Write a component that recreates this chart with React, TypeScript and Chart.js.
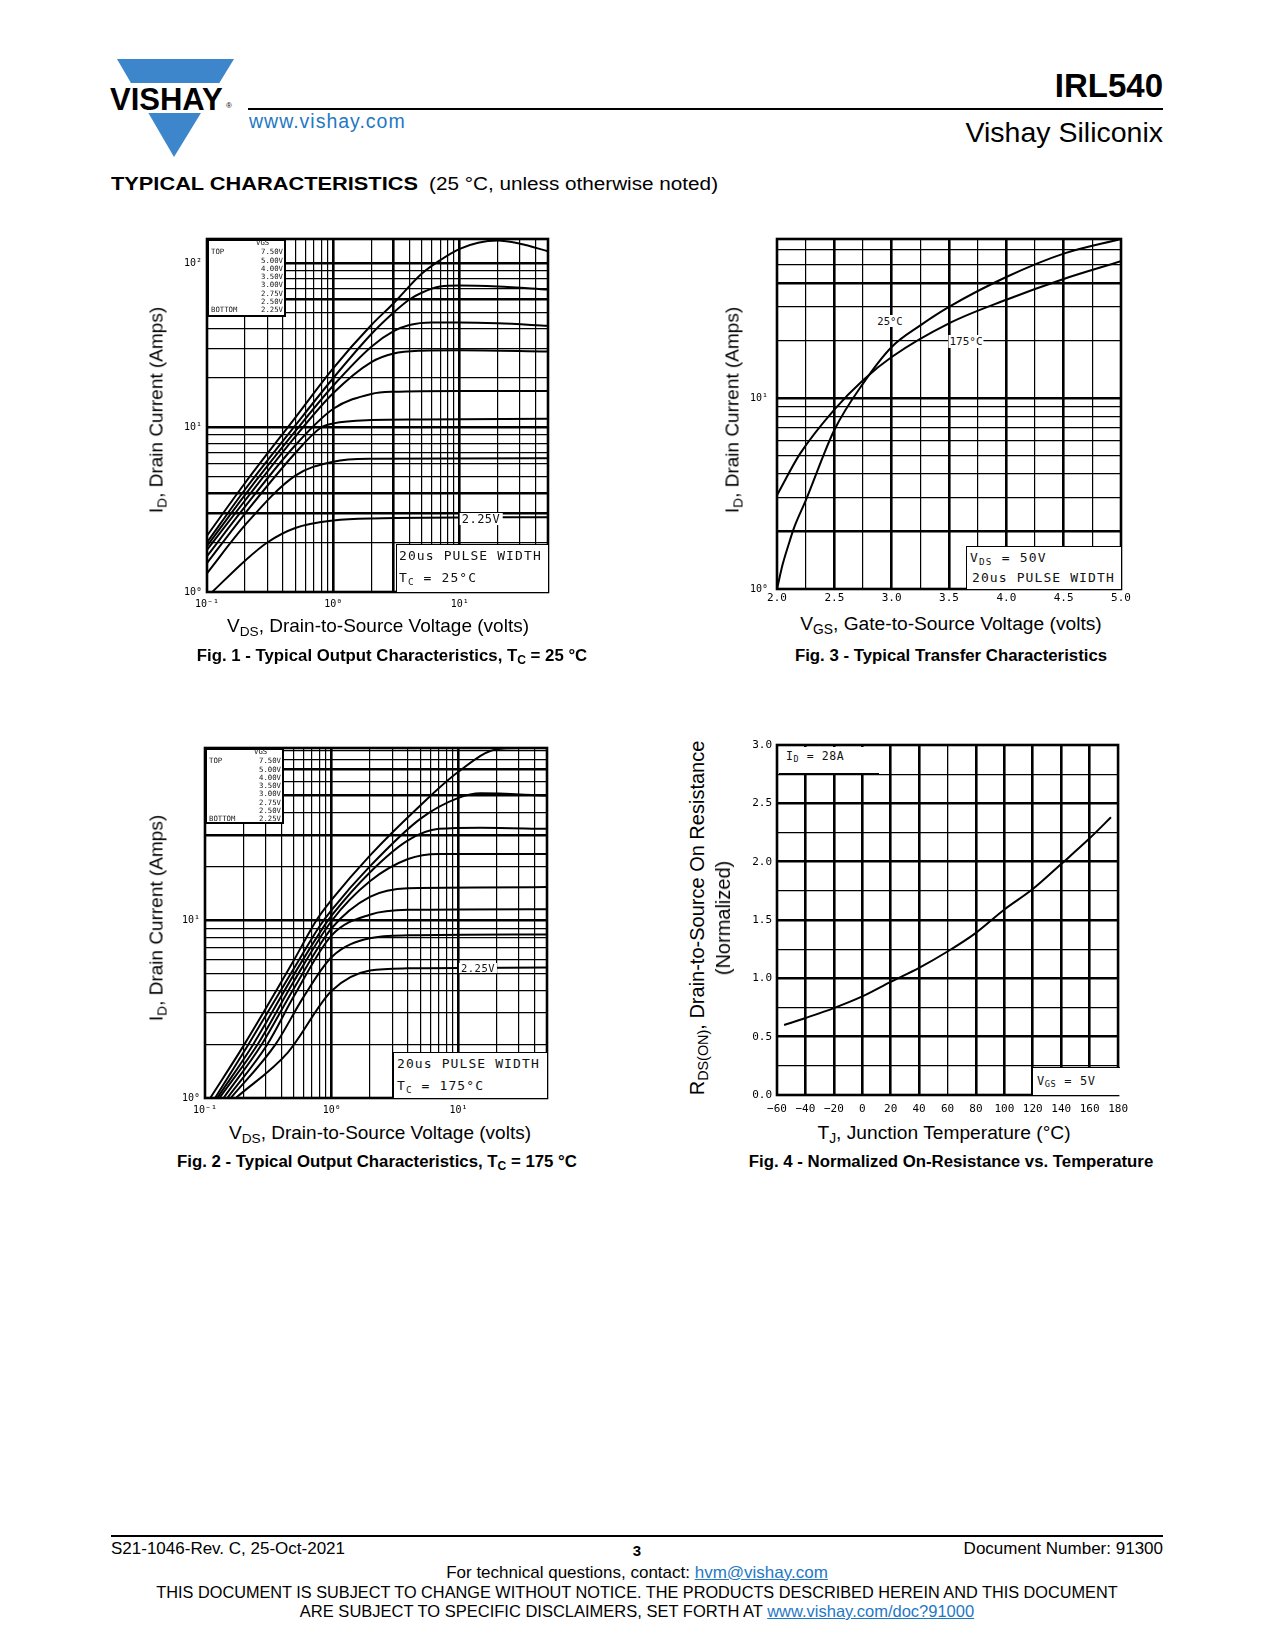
import React, { useEffect, useRef } from "react";
import { Chart, registerables } from "chart.js";
Chart.register(...registerables);

const SANS = "'Liberation Sans', Arial, Helvetica, sans-serif";
const MONO = "'DejaVu Sans Mono', monospace";
const BLUE = "#3d86cb";
const LINK = "#1f78c4";

// ---------- Fig. 1 : output characteristics, Tc = 25 °C  [VDS (V), ID (A)] ----------
const VGS_LEVELS = ["7.50V", "5.00V", "4.00V", "3.50V", "3.00V", "2.75V", "2.50V", "2.25V"];
const F1_VGS_750 = [[0.1, 2.2], [0.2, 4.6], [0.5, 11.5], [1, 23], [2, 42], [3, 57], [5, 86], [7, 104], [10, 122], [14, 133], [20, 137], [30, 131], [50, 118]];
const F1_VGS_500 = [[0.1, 2.0], [0.2, 4.2], [0.5, 10.3], [1, 20], [2, 37], [3, 50], [4, 60], [5, 66], [7, 72], [10, 73], [20, 72], [50, 69]];
const F1_VGS_400 = [[0.1, 1.9], [0.2, 3.9], [0.5, 9.5], [1, 18], [2, 31], [3, 38.5], [4, 42], [6, 43.5], [10, 43.5], [20, 43], [50, 41.5]];
const F1_VGS_350 = [[0.1, 1.8], [0.2, 3.6], [0.5, 8.8], [1, 16.2], [2, 25], [3, 28.2], [5, 29.3], [10, 29.5], [50, 29]];
const F1_VGS_300 = [[0.1, 1.65], [0.2, 3.3], [0.5, 7.8], [1, 13], [2, 16], [3, 16.5], [10, 16.7], [50, 16.7]];
const F1_VGS_275 = [[0.1, 1.5], [0.2, 3.0], [0.5, 7.0], [0.8, 10], [1, 10.6], [2, 11.1], [5, 11.2], [50, 11.3]];
const F1_VGS_250 = [[0.1, 1.3], [0.2, 2.55], [0.5, 5.1], [1, 6.2], [2, 6.45], [50, 6.5]];
const F1_VGS_225 = [[0.11, 1.0], [0.2, 1.55], [0.3, 2.0], [0.5, 2.45], [1, 2.72], [2, 2.8], [50, 2.85]];

// ---------- Fig. 2 : output characteristics, Tc = 175 °C ----------
const F2_VGS_750 = [[0.11, 1], [0.2, 1.95], [0.5, 5.9], [0.76, 10], [1, 13], [2, 23], [5, 44], [10, 68], [20, 91], [30, 92.5], [50, 92.5]];
const F2_VGS_500 = [[0.12, 1], [0.22, 2], [0.5, 5.3], [0.8, 9.2], [1, 11.4], [2, 20], [5, 37], [10, 48.5], [15, 51.5], [50, 50]];
const F2_VGS_400 = [[0.125, 1], [0.24, 2], [0.5, 4.9], [0.85, 9.0], [1, 10.6], [2, 18.5], [4, 28], [7, 32.5], [15, 33], [50, 32.5]];
const F2_VGS_350 = [[0.13, 1], [0.26, 2], [0.5, 4.5], [1, 9.9], [2, 16.5], [4, 22], [7, 23.5], [50, 23.5]];
const F2_VGS_300 = [[0.14, 1], [0.28, 2], [0.5, 4.1], [1, 9.0], [2, 13.5], [4, 15.1], [50, 15.3]];
const F2_VGS_275 = [[0.15, 1], [0.31, 2], [0.5, 3.7], [1, 8.2], [2, 10.7], [4, 11.4], [50, 11.5]];
const F2_VGS_250 = [[0.16, 1], [0.36, 2], [0.6, 3.7], [1, 6.2], [2, 7.9], [4, 8.2], [50, 8.3]];
const F2_VGS_225 = [[0.175, 1], [0.45, 1.8], [1, 4.0], [2, 5.2], [4, 5.35], [50, 5.4]];

// ---------- Fig. 3 : transfer characteristics  [VGS (V), ID (A)] ----------
const F3_TJ_25 = [[2.0, 1.0], [2.05, 1.35], [2.1, 1.7], [2.15, 2.1], [2.25, 2.9], [2.5, 6.8], [2.75, 11.9], [3.0, 18.5], [3.25, 24], [3.5, 30], [4.0, 43], [4.5, 57], [5.0, 68]];
const F3_TJ_175 = [[2.0, 3.1], [2.2, 5.1], [2.5, 8.7], [2.75, 12.4], [3.0, 16.4], [3.5, 24.6], [4.0, 32.7], [4.5, 42], [5.0, 52]];

// ---------- Fig. 4 : normalized RDS(on) vs TJ  [TJ (°C), RDS(on) norm.] ----------
const F4_RDS = [[-55, 0.6], [-40, 0.66], [-20, 0.745], [0, 0.845], [20, 0.97], [40, 1.09], [60, 1.23], [80, 1.39], [100, 1.59], [120, 1.765], [140, 1.98], [160, 2.2], [175, 2.38]];

// ---------- grids and tick labels ----------
const LOG_X_GRID = [0.1, 0.2, 0.3, 0.4, 0.5, 0.6, 0.7, 0.8, 0.9, 1, 2, 3, 4, 5, 6, 7, 8, 9, 10, 20, 30, 40, 50];
const F1_Y_GRID = [1, 2, 3, 4, 5, 6, 7, 8, 9, 10, 20, 30, 40, 50, 60, 70, 80, 90, 100, 140];
const F2_Y_GRID = [1, 2, 3, 4, 5, 6, 7, 8, 9, 10, 20, 30, 40, 50, 60, 70, 80, 90, 92.5];
const F3_X_GRID = [2, 2.25, 2.5, 2.75, 3, 3.25, 3.5, 3.75, 4, 4.25, 4.5, 4.75, 5];
const F3_Y_GRID = [1, 2, 3, 4, 5, 6, 7, 8, 9, 10, 20, 30, 40, 50, 60, 68];
const F4_X_GRID = [-60, -40, -20, 0, 20, 40, 60, 80, 100, 120, 140, 160, 180];
const F4_Y_GRID = [0, 0.25, 0.5, 0.75, 1, 1.25, 1.5, 1.75, 2, 2.25, 2.5, 2.75, 3];

const LOG_LABEL_VALUES = [0.1, 1, 10, 100];
const LOG_LABEL_TEXTS = ["10⁻¹", "10⁰", "10¹", "10²"];
const F3_X_LABEL_VALUES = [2, 2.5, 3, 3.5, 4, 4.5, 5];
const F3_X_LABEL_TEXTS = ["2.0", "2.5", "3.0", "3.5", "4.0", "4.5", "5.0"];
const F4_X_LABEL_TEXTS = ["−60", "−40", "−20", "0", "20", "40", "60", "80", "100", "120", "140", "160", "180"];
const F4_Y_LABEL_VALUES = [0, 0.5, 1, 1.5, 2, 2.5, 3];
const F4_Y_LABEL_TEXTS = ["0.0", "0.5", "1.0", "1.5", "2.0", "2.5", "3.0"];

type AxisSpec = {
  type: "linear" | "logarithmic";
  min: number; max: number;
  grid: number[]; thick: number[];
  labelValues: number[]; labelTexts: string[];
  font: number; padding: number; size: number; thin?: number;
};

const near = (a: number, b: number) => Math.abs(a - b) < 1e-9;

const framePlugin = {
  id: "frame",
  afterDatasetsDraw(chart: any) {
    const { ctx, chartArea: a } = chart;
    ctx.save();
    ctx.strokeStyle = "#000";
    ctx.lineWidth = 2.6;
    ctx.strokeRect(a.left, a.top, a.right - a.left, a.bottom - a.top);
    ctx.restore();
  },
};

function axisOptions(a: AxisSpec, horizontal: boolean) {
  return {
    type: a.type,
    min: a.min,
    max: a.max,
    position: horizontal ? "bottom" : "left",
    afterBuildTicks: (s: any) => {
      s.ticks = a.grid.map((v) => ({ value: v }));
    },
    afterFit: (s: any) => {
      if (horizontal) s.height = a.size;
      else s.width = a.size;
    },
    ticks: {
      autoSkip: false,
      maxRotation: 0,
      minRotation: 0,
      padding: a.padding,
      color: "#000",
      font: { family: MONO, size: a.font },
      callback: (v: any) => {
        const i = a.labelValues.findIndex((u) => near(u, Number(v)));
        return i >= 0 ? a.labelTexts[i] : "";
      },
    },
    grid: {
      color: "#000",
      drawTicks: false,
      lineWidth: (c: any) => {
        const val = c.tick ? c.tick.value : NaN;
        return a.thick.some((t) => near(t, val)) ? 2.6 : a.thin ?? 1.2;
      },
    },
    border: { display: false },
  };
}

function makeConfig(series: number[][][], names: string[], xs: AxisSpec, ys: AxisSpec, padTop: number, padRight: number) {
  return {
    type: "line",
    data: {
      datasets: series.map((s, i) => ({
        label: names[i],
        data: s.map(([x, y]) => ({ x, y })),
        borderColor: "#000",
        borderWidth: 2,
        pointRadius: 0,
        fill: false,
        cubicInterpolationMode: "monotone",
      })),
    },
    options: {
      animation: false,
      responsive: false,
      events: [],
      layout: { padding: { top: padTop, right: padRight, left: 0, bottom: 0 } },
      plugins: { legend: { display: false }, tooltip: { enabled: false } },
      scales: { x: axisOptions(xs, true), y: axisOptions(ys, false) },
    },
    plugins: [framePlugin],
  } as any;
}

function ChartCanvas({ left, top, width, height, config }: { left: number; top: number; width: number; height: number; config: () => any }) {
  const ref = useRef<HTMLCanvasElement>(null);
  useEffect(() => {
    const chart = new Chart(ref.current as HTMLCanvasElement, config());
    return () => chart.destroy();
  }, []);
  return (
    <canvas
      ref={ref}
      width={width}
      height={height}
      style={{ position: "absolute", left, top, width, height, display: "block" }}
    />
  );
}

// ---------- text helpers ----------
const Sub = ({ children }: { children: React.ReactNode }) => (
  <span style={{ fontSize: "0.72em", verticalAlign: "-0.28em", lineHeight: 0 }}>{children}</span>
);

type TP = {
  x: number; y: number; size: number; children: React.ReactNode;
  align?: "left" | "center" | "right"; weight?: number | string; color?: string;
  family?: string; style?: React.CSSProperties;
};
// y is the baseline
function T({ x, y, size, children, align = "left", weight = 400, color = "#000", family = SANS, style }: TP) {
  const tx = align === "left" ? "0" : align === "center" ? "-50%" : "-100%";
  return (
    <div
      style={{
        position: "absolute", left: x, top: y - 0.846 * size, fontSize: size, lineHeight: `${size}px`,
        fontWeight: weight as any, color, fontFamily: family, whiteSpace: "nowrap",
        transform: `translateX(${tx})`, ...style,
      }}
    >
      {children}
    </div>
  );
}
// cy is the visual centre, monospace chart annotation
function M({ x, cy, size, children, align = "left", bg, style }: { x: number; cy: number; size: number; children: React.ReactNode; align?: "left" | "center" | "right"; bg?: string; style?: React.CSSProperties }) {
  const tx = align === "left" ? "0" : align === "center" ? "-50%" : "-100%";
  return (
    <div
      style={{
        position: "absolute", left: x, top: cy - size / 2, fontSize: size, lineHeight: `${size}px`,
        fontFamily: MONO, color: "#111", whiteSpace: "nowrap", transform: `translateX(${tx})`,
        background: bg, ...style,
      }}
    >
      {children}
    </div>
  );
}
function RotT({ cx, cy, size, children }: { cx: number; cy: number; size: number; children: React.ReactNode }) {
  return (
    <div
      style={{
        position: "absolute", left: cx, top: cy, fontSize: size, lineHeight: `${size}px`, fontFamily: SANS,
        whiteSpace: "nowrap", transform: "translate(-50%,-50%) rotate(-90deg)", color: "#000",
      }}
    >
      {children}
    </div>
  );
}
function Box({ l, t, w, h, border = "1.5px solid #000", sides = ["left", "top"] }: { l: number; t: number; w: number; h: number; border?: string; sides?: string[] }) {
  const st: React.CSSProperties = { position: "absolute", left: l, top: t, width: w, height: h, background: "#fff", boxSizing: "border-box" };
  if (sides.includes("left")) st.borderLeft = border;
  if (sides.includes("top")) st.borderTop = border;
  if (sides.includes("right")) st.borderRight = border;
  if (sides.includes("bottom")) st.borderBottom = border;
  return <div style={st} />;
}

function Legend({ l, t, w, h, y0, rightX }: { l: number; t: number; w: number; h: number; y0: number; rightX: number }) {
  const step = 8.25;
  return (
    <>
      <div style={{ position: "absolute", left: l, top: t, width: w, height: h, background: "#fff", border: "2px solid #000", boxSizing: "border-box" }} />
      <M x={rightX - 27} cy={y0} size={7.3}>VGS</M>
      {VGS_LEVELS.map((v, i) => (
        <M key={v} x={rightX} cy={y0 + 9 + i * step} size={7.3} align="right">{v}</M>
      ))}
      <M x={l + 4} cy={y0 + 9} size={7.3}>TOP</M>
      <M x={l + 4} cy={y0 + 9 + 7 * step} size={7.3}>BOTTOM</M>
    </>
  );
}

// ---------- chart configs ----------
const fig1Config = () =>
  makeConfig(
    [F1_VGS_750, F1_VGS_500, F1_VGS_400, F1_VGS_350, F1_VGS_300, F1_VGS_275, F1_VGS_250, F1_VGS_225],
    VGS_LEVELS,
    { type: "logarithmic", min: 0.1, max: 50, grid: LOG_X_GRID, thick: [1, 3, 10], labelValues: LOG_LABEL_VALUES, labelTexts: LOG_LABEL_TEXTS, font: 10, padding: 6, size: 24 },
    { type: "logarithmic", min: 1, max: 140, grid: F1_Y_GRID, thick: [3, 4, 10, 60, 100], labelValues: LOG_LABEL_VALUES, labelTexts: LOG_LABEL_TEXTS, font: 10, padding: 5, size: 42 },
    12, 12
  );
const fig2Config = () =>
  makeConfig(
    [F2_VGS_750, F2_VGS_500, F2_VGS_400, F2_VGS_350, F2_VGS_300, F2_VGS_275, F2_VGS_250, F2_VGS_225],
    VGS_LEVELS,
    { type: "logarithmic", min: 0.1, max: 50, grid: LOG_X_GRID, thick: [1, 10], labelValues: LOG_LABEL_VALUES, labelTexts: LOG_LABEL_TEXTS, font: 10, padding: 6, size: 24 },
    { type: "logarithmic", min: 1, max: 92.5, grid: F2_Y_GRID, thick: [10, 30, 50, 70], labelValues: LOG_LABEL_VALUES, labelTexts: LOG_LABEL_TEXTS, font: 10, padding: 5, size: 42 },
    12, 12
  );
const fig3Config = () =>
  makeConfig(
    [F3_TJ_25, F3_TJ_175],
    ["25°C", "175°C"],
    { type: "linear", min: 2, max: 5, grid: F3_X_GRID, thick: [2.5, 3, 3.5, 4, 4.5], labelValues: F3_X_LABEL_VALUES, labelTexts: F3_X_LABEL_TEXTS, font: 11, padding: 3, size: 22 },
    { type: "logarithmic", min: 1, max: 68, grid: F3_Y_GRID, thick: [2, 10, 40], labelValues: LOG_LABEL_VALUES, labelTexts: LOG_LABEL_TEXTS, font: 10, padding: 9, size: 45 },
    12, 16
  );
const fig4Config = () =>
  makeConfig(
    [F4_RDS],
    ["RDS(on)"],
    { type: "linear", min: -60, max: 180, grid: F4_X_GRID, thick: [-40, -20, 0, 20, 40, 80, 100, 120, 140, 160], labelValues: F4_X_GRID, labelTexts: F4_X_LABEL_TEXTS, font: 11, padding: 8, size: 25, thin: 1.3 },
    { type: "linear", min: 0, max: 3, grid: F4_Y_GRID, thick: [0.5, 1, 1.5, 2, 2.5], labelValues: F4_Y_LABEL_VALUES, labelTexts: F4_Y_LABEL_TEXTS, font: 11, padding: 5, size: 45 },
    12, 16
  );

export default function App() {
  return (
    <div style={{ position: "absolute", left: 0, top: 0, width: 1275, height: 1650, background: "#fff", overflow: "hidden", fontFamily: SANS }}>
      {/* ---------- header ---------- */}
      <svg style={{ position: "absolute", left: 105, top: 55 }} width={140} height={110}>
        <polygon points="12,4 129,4 69,102" fill={BLUE} />
        <rect x={0} y={28} width={140} height={30} fill="#fff" />
      </svg>
      <T x={110} y={110} size={31} weight={700} style={{ letterSpacing: 0 }}>VISHAY</T>
      <T x={226} y={109} size={8} weight={400}>®</T>
      <div style={{ position: "absolute", left: 248, top: 108, width: 915, height: 2, background: "#000" }} />
      <T x={249} y={128} size={19.5} color={LINK} style={{ letterSpacing: 1 }}>www.vishay.com</T>
      <T x={1163} y={97} size={33} weight={700} align="right">IRL540</T>
      <T x={1163} y={142} size={28.5} align="right">Vishay Siliconix</T>
      <T x={111} y={190} size={18} weight={900} style={{ transform: "scaleX(1.21)", transformOrigin: "left" }}>TYPICAL CHARACTERISTICS</T>
      <T x={429} y={190} size={18} style={{ transform: "scaleX(1.15)", transformOrigin: "left" }}>(25 °C, unless otherwise noted)</T>

      {/* ---------- Fig. 1 ---------- */}
      <ChartCanvas left={165} top={227} width={395} height={389} config={fig1Config} />
      <Legend l={207} t={239} w={79} h={78} y0={243} rightX={283} />
      <M x={481} cy={519} size={12} align="center" bg="#fff" style={{ padding: "0 2px", letterSpacing: 0.5 }}>2.25V</M>
      <Box l={396} t={544} w={152} h={48} />
      <M x={399} cy={555} size={13} style={{ letterSpacing: 1.1 }}>20us PULSE WIDTH</M>
      <M x={399} cy={577} size={13} style={{ letterSpacing: 1.1 }}>T<Sub>C</Sub> = 25°C</M>
      <RotT cx={156} cy={410} size={19}>I<Sub>D</Sub>, Drain Current (Amps)</RotT>
      <T x={378} y={632} size={19} align="center">V<Sub>DS</Sub>, Drain-to-Source Voltage (volts)</T>
      <T x={392} y={662} size={16.8} weight={700} align="center">Fig. 1 - Typical Output Characteristics, T<Sub>C</Sub> = 25 °C</T>

      {/* ---------- Fig. 3 ---------- */}
      <ChartCanvas left={732} top={224} width={405} height={387} config={fig3Config} />
      <M x={890} cy={320} size={10.5} align="center" bg="#fff" style={{ padding: "1px 1px" }}>25°C</M>
      <M x={966} cy={340} size={11} align="center" bg="#fff" style={{ padding: "1px 1px" }}>175°C</M>
      <Box l={966} t={546} w={155} h={43} border="1px solid #000" />
      <M x={970} cy={557} size={13} style={{ letterSpacing: 1.2 }}>V<Sub>DS</Sub> = 50V</M>
      <M x={972} cy={577} size={13} style={{ letterSpacing: 1.1 }}>20us PULSE WIDTH</M>
      <RotT cx={732} cy={410} size={19}>I<Sub>D</Sub>, Drain Current (Amps)</RotT>
      <T x={951} y={630} size={19.2} align="center">V<Sub>GS</Sub>, Gate-to-Source Voltage (volts)</T>
      <T x={951} y={662} size={16.8} weight={700} align="center">Fig. 3 - Typical Transfer Characteristics</T>

      {/* ---------- Fig. 2 ---------- */}
      <ChartCanvas left={163} top={736} width={396} height={386} config={fig2Config} />
      <Legend l={205} t={748} w={79} h={76} y0={752} rightX={281} />
      <M x={478} cy={968} size={10.5} align="center" bg="#fff" style={{ padding: "0 2px", letterSpacing: 0.5 }}>2.25V</M>
      <Box l={393} t={1052} w={154} h={46} />
      <M x={397} cy={1063} size={13} style={{ letterSpacing: 1.1 }}>20us PULSE WIDTH</M>
      <M x={397} cy={1085} size={13} style={{ letterSpacing: 1.1 }}>T<Sub>C</Sub> = 175°C</M>
      <RotT cx={156} cy={918} size={19}>I<Sub>D</Sub>, Drain Current (Amps)</RotT>
      <T x={380} y={1139} size={19} align="center">V<Sub>DS</Sub>, Drain-to-Source Voltage (volts)</T>
      <T x={377} y={1168} size={16.8} weight={700} align="center">Fig. 2 - Typical Output Characteristics, T<Sub>C</Sub> = 175 °C</T>

      {/* ---------- Fig. 4 ---------- */}
      <ChartCanvas left={732} top={733} width={404} height={387} config={fig4Config} />
      <Box l={779} t={747} w={100} h={27} border="1px solid #000" sides={["bottom"]} />
      <M x={786} cy={757} size={11.5} style={{ letterSpacing: 0.6 }}>I<Sub>D</Sub> = 28A</M>
      <Box l={1032} t={1067} w={88} h={28} border="1px solid #000" />
      <M x={1037} cy={1081} size={12} style={{ letterSpacing: 0.6 }}>V<Sub>GS</Sub> = 5V</M>
      <RotT cx={697} cy={918} size={20}>R<Sub>DS(ON)</Sub>, Drain-to-Source On Resistance</RotT>
      <RotT cx={723} cy={918} size={20}>(Normalized)</RotT>
      <T x={944} y={1139} size={19.2} align="center">T<Sub>J</Sub>, Junction Temperature (°C)</T>
      <T x={951} y={1168} size={16.8} weight={700} align="center">Fig. 4 - Normalized On-Resistance vs. Temperature</T>

      {/* ---------- footer ---------- */}
      <div style={{ position: "absolute", left: 111, top: 1535, width: 1052, height: 2, background: "#000" }} />
      <T x={111} y={1554} size={17}>S21-1046-Rev. C, 25-Oct-2021</T>
      <T x={637} y={1556} size={15} weight={700} align="center">3</T>
      <T x={1163} y={1554} size={17} align="right">Document Number: 91300</T>
      <T x={637} y={1578} size={17} align="center">
        For technical questions, contact: <span style={{ color: LINK, textDecoration: "underline" }}>hvm@vishay.com</span>
      </T>
      <T x={637} y={1598} size={16.3} align="center">THIS DOCUMENT IS SUBJECT TO CHANGE WITHOUT NOTICE. THE PRODUCTS DESCRIBED HEREIN AND THIS DOCUMENT</T>
      <T x={637} y={1617} size={16.5} align="center">
        ARE SUBJECT TO SPECIFIC DISCLAIMERS, SET FORTH AT <span style={{ color: LINK, textDecoration: "underline" }}>www.vishay.com/doc?91000</span>
      </T>
    </div>
  );
}
